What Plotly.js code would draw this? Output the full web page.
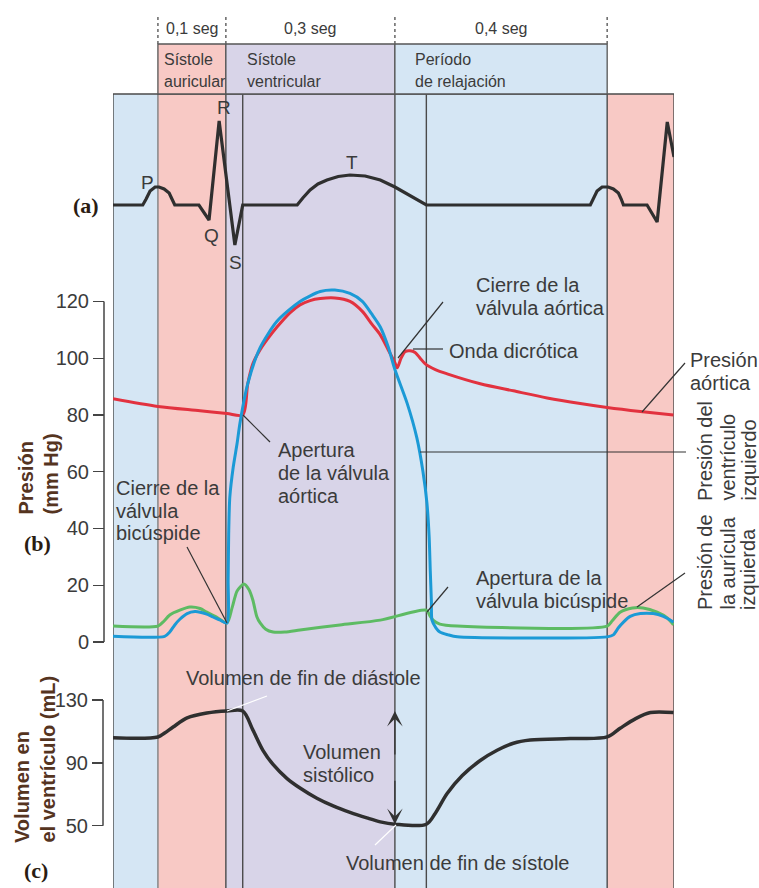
<!DOCTYPE html>
<html><head><meta charset="utf-8">
<script src="https://cdn.plot.ly/plotly-3.0.1.min.js"></script>
<style>html,body{margin:0;padding:0;background:#fff}#chart{width:759px;height:888px}</style>
</head><body><div id="chart"></div>
<script>
// ---------------- DATA ----------------
// cardiac-cycle phase boundaries (s, nominal time axis)
const phaseEdges = [-0.080, 0.000, 0.121, 0.422, 0.800, 0.919];
// valve events / phase lines (s)
const eventTimes = [0.000, 0.121, 0.151, 0.422, 0.478, 0.800];
const headerLabels = [['Sístole', 'auricular'], ['Sístole', 'ventricular'], ['Período', 'de relajación']];
const headerDurations = ['0,1 seg', '0,3 seg', '0,4 seg'];

// (a) ECG
const ecgT = [-0.080, -0.027, -0.021, -0.014, -0.005, 0.002, 0.011, 0.020, 0.025, 0.030, 0.073, 0.091, 0.109, 0.137, 0.151,
  0.248, 0.258, 0.271, 0.285, 0.301, 0.321, 0.342, 0.369, 0.396, 0.422, 0.440, 0.454, 0.467, 0.478,
  0.770, 0.775, 0.782, 0.791, 0.802, 0.811, 0.820, 0.825, 0.829, 0.871, 0.889, 0.907, 0.919];
const ecgMv = [0, 0, 0.06, 0.14, 0.18, 0.18, 0.16, 0.12, 0.06, 0, 0, -0.15, 0.84, -0.40, 0,
  0, 0.07, 0.15, 0.21, 0.25, 0.285, 0.30, 0.29, 0.25, 0.18, 0.12, 0.08, 0.035, 0,
  0, 0.06, 0.14, 0.18, 0.18, 0.16, 0.12, 0.06, 0, 0, -0.17, 0.83, 0.48];

// (b) pressures, mm Hg
const aortaT = [-0.080, 0.000, 0.075, 0.123, 0.151, 0.160, 0.169, 0.182, 0.196, 0.212, 0.235, 0.253, 0.271, 0.289, 0.315, 0.342,
  0.364, 0.381, 0.396, 0.410, 0.422, 0.426, 0.433, 0.440, 0.449, 0.458, 0.467, 0.476, 0.494, 0.515, 0.574, 0.633, 0.693,
  0.752, 0.800, 0.859, 0.918];
const aortaP = [85.7, 83, 81.5, 80.5, 80, 91, 98, 103, 107, 111, 116, 118.8, 120.3, 121, 121.2, 120,
  116.5, 112, 108.2, 103, 98.4, 96.6, 100, 102.3, 102.6, 102, 100, 98, 96, 94.5, 91, 88.5, 86,
  84, 82.6, 81.2, 80];

const ventT = [-0.080, 0.012, 0.021, 0.030, 0.039, 0.052, 0.066, 0.075, 0.087, 0.098, 0.110, 0.123, 0.125, 0.126, 0.128, 0.134,
  0.141, 0.146, 0.160, 0.182, 0.212, 0.253, 0.289, 0.315, 0.342, 0.364, 0.381, 0.396, 0.410, 0.422, 0.444, 0.461, 0.472, 0.479,
  0.483, 0.485, 0.487, 0.488, 0.495, 0.502, 0.517, 0.533, 0.800, 0.811, 0.820, 0.829, 0.841, 0.859, 0.882, 0.900, 0.918];
const ventP = [2, 2, 3.5, 6, 8, 10, 10.7, 10.5, 9.8, 8.8, 7.8, 6.7, 22, 38, 51, 61.5,
  70, 77, 91, 103.7, 113, 120, 123.5, 124, 122.8, 120, 115.5, 111, 104, 96, 84, 72, 60, 49,
  37, 25, 14, 7.7, 5, 3.5, 2.5, 1.8, 1.8, 2.5, 5, 7, 9, 10, 10, 9, 7];

const atriumT = [-0.080, 0.000, 0.009, 0.021, 0.039, 0.057, 0.075, 0.087, 0.102, 0.123, 0.132, 0.141, 0.153, 0.162, 0.169, 0.176,
  0.182, 0.192, 0.205, 0.226, 0.253, 0.324, 0.396, 0.478, 0.485, 0.490, 0.502, 0.533, 0.800, 0.809, 0.823, 0.845, 0.864,
  0.889, 0.907, 0.918];
const atriumP = [5.6, 5.6, 7, 9.5, 11.2, 12.3, 11.8, 10.5, 9, 6.7, 12, 18, 20.4, 18.5, 14.8, 9,
  6.7, 4.5, 3.5, 3.5, 4.2, 6, 7.7, 11.2, 9, 7.7, 6.3, 5.6, 5.6, 7.5, 10.5, 12, 12,
  10.5, 8.5, 6];

// (c) ventricular volume, mL
const volT = [-0.080, 0.000, 0.012, 0.027, 0.052, 0.087, 0.123, 0.151, 0.169, 0.187, 0.205, 0.230, 0.253, 0.283, 0.312, 0.342,
  0.372, 0.396, 0.422, 0.478, 0.494, 0.515, 0.542, 0.574, 0.604, 0.633, 0.663, 0.734, 0.800, 0.823, 0.850, 0.877, 0.918];
const volML = [106, 106.5, 109, 112.8, 118.6, 121.7, 123, 123, 111, 98, 89, 80, 74, 67.5, 62.6, 58.5,
  55, 52.5, 51, 51, 58, 70.5, 82, 91.5, 98, 102.5, 104.5, 105.5, 106.5, 112, 118, 122, 122];
const EDV = 123, ESV = 51;

const pressureTicks = [0, 20, 40, 60, 80, 100, 120];
const volumeTicks = [50, 90, 130];

// ---------------- LAYOUT HELPERS ----------------
const W = 759, H = 888;
const PX = x => x / W;
const PY = y => 1 - y / H;
const plotTop = PY(94);
const TXT = '#3b3b3b';
const FONT = 'Liberation Sans, Arial, sans-serif';
const phaseFill = ['#d5e6f4', '#f8c9c5', '#d8d4e8', '#d5e6f4', '#f8c9c5'];

const shapes = [];
for (let i = 0; i < phaseEdges.length - 1; i++) {
  shapes.push({type: 'rect', layer: 'below', xref: 'x', yref: 'paper', x0: phaseEdges[i], x1: phaseEdges[i + 1],
    y0: 0, y1: plotTop, fillcolor: phaseFill[i], line: {width: 0}});
}
eventTimes.forEach((t, i) => {
  shapes.push({type: 'line', layer: 'below', xref: 'x', yref: 'paper', x0: t, x1: t, y0: 0, y1: plotTop,
    line: {color: i === 0 ? '#808080' : '#4a4a4a', width: 1.4}});
});
const xL = phaseEdges[0], xR = phaseEdges[phaseEdges.length - 1];
[[xL, xL, 0, plotTop], [xR, xR, 0, plotTop], [xL, xR, plotTop, plotTop]].forEach(s => {
  shapes.push({type: 'line', layer: 'below', xref: 'x', yref: 'paper', x0: s[0], x1: s[1], y0: s[2], y1: s[3],
    line: {color: '#4a4a4a', width: 1.4}});
});
for (let i = 1; i <= 3; i++) {
  shapes.push({type: 'rect', xref: 'x', yref: 'paper', x0: phaseEdges[i], x1: phaseEdges[i + 1],
    y0: plotTop, y1: PY(44), fillcolor: phaseFill[i], line: {color: '#555', width: 1.3}});
}
for (let i = 1; i <= 4; i++) {
  shapes.push({type: 'line', xref: 'x', yref: 'paper', x0: phaseEdges[i], x1: phaseEdges[i], y0: PY(44), y1: PY(14),
    line: {color: '#666', width: 1.5, dash: 'dot'}});
}
shapes.push({type: 'line', xref: 'paper', yref: 'y2', x0: PX(104), x1: PX(104), y0: 0, y1: 120, line: {color: '#444', width: 1.5}});
shapes.push({type: 'line', xref: 'paper', yref: 'y3', x0: PX(103), x1: PX(103), y0: 50, y1: 130, line: {color: '#444', width: 1.5}});
const leaders = [
  [398, 358, 443, 302, '#333'], [413, 349, 443, 349, '#333'], [642, 412, 685, 363, '#333'],
  [420, 452, 686, 452, '#333'], [637, 607, 685, 573, '#333'], [427, 612, 448, 587, '#333'],
  [243, 415, 270, 442, '#333'], [187, 547, 227, 623, '#333'], [227, 711, 267, 696, '#ffffff'],
  [396, 825, 375, 845, '#ffffff']
];
leaders.forEach(l => shapes.push({type: 'line', xref: 'paper', yref: 'paper', x0: PX(l[0]), y0: PY(l[1]),
  x1: PX(l[2]), y1: PY(l[3]), line: {color: l[4], width: 1.2}}));

const annotations = [];
function addLines(lines, x, y, dy, opt) {
  opt = opt || {};
  lines.forEach((s, i) => annotations.push({xref: 'paper', yref: 'paper', x: PX(x), y: PY(y + i * dy), text: s,
    showarrow: false, xanchor: opt.xanchor || 'left', yanchor: 'middle',
    font: {family: FONT, size: opt.size || 20, color: opt.color || TXT}}));
}
function addRot(lines, xs, bottom, opt) {
  opt = opt || {};
  lines.forEach((s, i) => annotations.push({xref: 'paper', yref: 'paper', x: PX(xs[i]), y: PY(bottom),
    text: opt.bold ? '<b>' + s + '</b>' : s,
    textangle: -90, showarrow: false, xanchor: 'center', yanchor: 'bottom',
    font: {family: FONT, size: opt.size || 20, color: opt.color || TXT}}));
}
headerDurations.forEach((s, i) => annotations.push({xref: 'x', yref: 'paper', x: (phaseEdges[i + 1] + phaseEdges[i + 2]) / 2,
  y: PY(29), text: s, showarrow: false, xanchor: 'center', yanchor: 'middle', font: {family: FONT, size: 16, color: TXT}}));
const headerTextX = [162, 245, 413];
headerLabels.forEach((ls, i) => addLines(ls, headerTextX[i], 60, 21, {size: 16}));
[['P', 147, 182], ['R', 224, 108], ['Q', 212, 236], ['S', 235, 262], ['T', 352, 162]].forEach(a =>
  addLines([a[0]], a[1], a[2], 0, {xanchor: 'center', size: 19}));
addLines(['Cierre de la', 'válvula aórtica'], 474, 285, 23);
addLines(['Onda dicrótica'], 447, 351, 0);
addLines(['Presión', 'aórtica'], 688, 360, 23);
addLines(['Apertura de la', 'válvula bicúspide'], 474, 578, 22.5);
addLines(['Apertura', 'de la válvula', 'aórtica'], 276, 450, 23);
addLines(['Cierre de la', 'válvula', 'bicúspide'], 114, 488, 22.5);
addLines(['Volumen de fin de diástole'], 184, 678, 0);
addLines(['Volumen', 'sistólico'], 301, 752, 23);
addLines(['Volumen de fin de sístole'], 344, 863, 0);
addRot(['Presión del', 'ventrículo', 'izquierdo'], [705, 727, 748], 503);
addRot(['Presión de', 'la aurícula', 'izquierda'], [705, 727, 748], 612);
const AX = '#55341f';
addRot(['Presión', '(mm Hg)'], [25, 50], 517, {color: AX, bold: true});
addRot(['Volumen en', 'el ventrículo (mL)'], [22, 47], 845, {color: AX, bold: true});
[['(a)', 86, 206], ['(b)', 37, 543], ['(c)', 36, 870]].forEach(a => annotations.push({xref: 'paper', yref: 'paper',
  x: PX(a[1]), y: PY(a[2]), text: '<b>' + a[0] + '</b>', showarrow: false, xanchor: 'center', yanchor: 'middle',
  font: {family: 'Liberation Serif, serif', size: 22, color: '#2a1c12'}}));
annotations.push({xref: 'x', yref: 'y3', x: eventTimes[3], y: EDV, ax: 0, ay: 45, text: '', showarrow: true,
  arrowhead: 3, arrowsize: 2, arrowwidth: 1.3, arrowcolor: '#333'});
annotations.push({xref: 'x', yref: 'y3', x: eventTimes[3], y: ESV, ax: 0, ay: -45, text: '', showarrow: true,
  arrowhead: 3, arrowsize: 2, arrowwidth: 1.3, arrowcolor: '#333'});

const traces = [
  {x: ecgT, y: ecgMv, xaxis: 'x', yaxis: 'y', mode: 'lines', line: {color: '#2f2f2f', width: 3.2}, hoverinfo: 'skip'},
  {x: aortaT, y: aortaP, xaxis: 'x', yaxis: 'y2', mode: 'lines', line: {color: '#e2323f', width: 3, shape: 'spline', smoothing: 0.8}},
  {x: atriumT, y: atriumP, xaxis: 'x', yaxis: 'y2', mode: 'lines', line: {color: '#5dbb63', width: 3, shape: 'spline', smoothing: 0.7}},
  {x: ventT, y: ventP, xaxis: 'x', yaxis: 'y2', mode: 'lines', line: {color: '#1b9ad6', width: 3, shape: 'spline', smoothing: 0.7}},
  {x: volT, y: volML, xaxis: 'x', yaxis: 'y3', mode: 'lines', line: {color: '#2f2f2f', width: 3.5, shape: 'spline', smoothing: 0.9}}
];

const tickFont = {family: FONT, size: 20, color: TXT};
const layout = {
  width: W, height: H, margin: {l: 0, r: 0, t: 0, b: 0},
  paper_bgcolor: '#fff', plot_bgcolor: 'rgba(0,0,0,0)', showlegend: false,
  font: {family: FONT, color: TXT},
  xaxis: {domain: [PX(113), PX(674)], range: [xL, xR], visible: false, fixedrange: true},
  yaxis: {domain: [0, plotTop], range: [-6.83, 1.11], visible: false, fixedrange: true},
  yaxis2: {overlaying: 'y', anchor: 'free', position: PX(104), side: 'left', range: [-86.7, 193.1],
    tickvals: pressureTicks, ticks: 'outside', ticklen: 11, tickwidth: 1.3, tickcolor: '#444',
    showgrid: false, zeroline: false, showline: false, tickfont: tickFont, fixedrange: true},
  yaxis3: {overlaying: 'y', anchor: 'free', position: PX(103), side: 'left', range: [10.44, 515.4],
    tickvals: volumeTicks, ticks: 'outside', ticklen: 11, tickwidth: 1.3, tickcolor: '#444',
    showgrid: false, zeroline: false, showline: false, tickfont: tickFont, fixedrange: true},
  shapes: shapes, annotations: annotations
};
Plotly.newPlot('chart', traces, layout, {displayModeBar: false, staticPlot: true});
</script></body></html>
